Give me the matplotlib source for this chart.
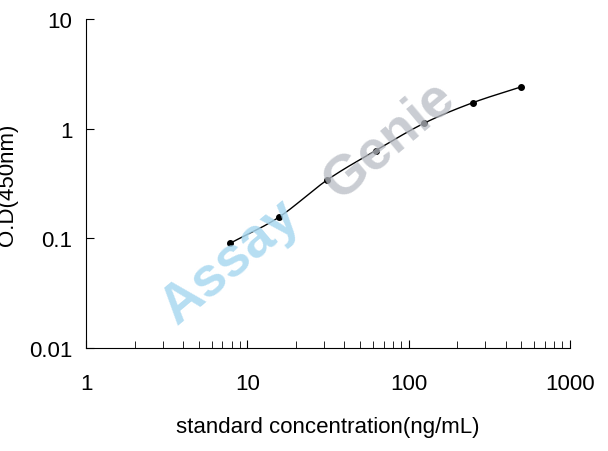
import numpy as np
import matplotlib.pyplot as plt
from matplotlib.ticker import LogLocator, NullFormatter, FixedLocator

plt.rcParams['font.family'] = ['Liberation Sans', 'DejaVu Sans']

conc = [7.8, 15.6, 31.25, 62.5, 125, 250, 500]
od = [0.09, 0.155, 0.34, 0.63, 1.12, 1.72, 2.4]

fig = plt.figure(figsize=(6.08, 4.52), dpi=100)
ax = fig.add_axes([0.142, 0.228, 0.795, 0.728])

# smooth curve through points (Catmull-Rom in log space)
lx, ly = np.log10(conc), np.log10(od)
px = np.concatenate([[2*lx[0]-lx[1]], lx, [2*lx[-1]-lx[-2]]])
py = np.concatenate([[2*ly[0]-ly[1]], ly, [2*ly[-1]-ly[-2]]])
cx, cy = [], []
t = np.linspace(0, 1, 30)
for i in range(1, len(px) - 2):
    for p, out in ((px, cx), (py, cy)):
        p0, p1, p2, p3 = p[i-1], p[i], p[i+1], p[i+2]
        out.extend(0.5*((2*p1) + (-p0+p2)*t + (2*p0-5*p1+4*p2-p3)*t**2 + (-p0+3*p1-3*p2+p3)*t**3))

fig.text(0.38, 0.42, 'Assay', fontsize=40, fontweight='bold', color='#a9d8f0',
         rotation=40, ha='center', va='center', alpha=0.85)
fig.text(0.64, 0.69, 'Genie', fontsize=40, fontweight='bold', color='#b8bcc4',
         rotation=40, ha='center', va='center', alpha=0.75)

ax.plot(10**np.array(cx), 10**np.array(cy), color='black', lw=1)
ax.plot(conc, od, 'o', color='black', ms=4)

ax.set_xscale('log')
ax.set_yscale('log')
ax.set_xlim(1, 1000)
ax.set_ylim(0.01, 10)
ax.patch.set_alpha(0)
ax.xaxis.set_minor_locator(LogLocator(subs=np.arange(2, 10)))
ax.xaxis.set_minor_formatter(NullFormatter())
ax.yaxis.set_minor_locator(FixedLocator([]))
ax.set_xticks([1, 10, 100, 1000], ['1', '10', '100', '1000'])
ax.set_yticks([0.01, 0.1, 1, 10], ['0.01', '0.1', '1', '10'])
ax.tick_params(which='both', direction='in', labelsize=16)
ax.tick_params(axis='x', pad=18)
ax.tick_params(axis='y', pad=10)
ax.tick_params(which='major', length=6)
ax.tick_params(which='minor', length=5)
for s in ('top', 'right'):
    ax.spines[s].set_visible(False)
ax.set_xlabel('standard concentration(ng/mL)', fontsize=16, labelpad=16)
ax.set_ylabel('O.D(450nm)', fontsize=16, labelpad=8)

fig.savefig('out.png')
